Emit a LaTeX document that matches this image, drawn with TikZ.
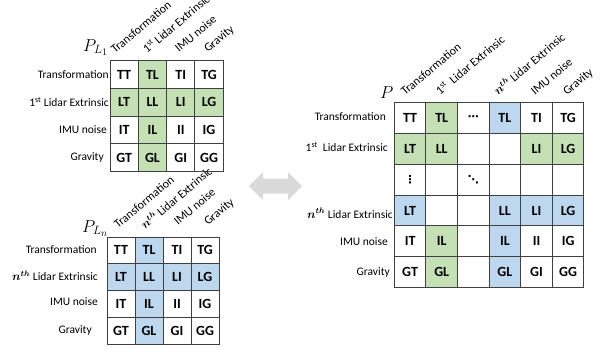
\documentclass[tikz,border=0pt]{standalone}
\usepackage{amsmath}
\usepackage{fontspec}
\setmainfont{Carlito}
\newfontfamily\djv{DejaVu Sans}
\definecolor{lg}{HTML}{C5E0B4}
\definecolor{lb}{HTML}{BDD7EE}
\definecolor{gridc}{HTML}{404040}
\definecolor{arrowc}{HTML}{D9D9D9}
\newcommand\mkC[4]{\node[cellbox, fill=#4, minimum width=31.6pt, minimum height=30.8pt] (C-#1-#2) at ({394.3+31.6*(#2-0.5)},{102.7+30.8*(#1-0.5)}) {#3};}
\begin{document}
\begin{tikzpicture}[x=1pt,y=-1pt,
  cellbox/.style={draw=gridc, line width=1pt, inner sep=0pt, font=\fontsize{14}{14}\selectfont\bfseries},
  rowlab/.style={anchor=east, inner sep=0pt, font=\fontsize{11.5}{12}\selectfont},
  collab/.style={anchor=base west, rotate=40, inner sep=0pt, font=\fontsize{12}{13}\selectfont},
  mlab/.style={anchor=base west, inner sep=0pt, font=\fontsize{17.28}{18}\selectfont},
  dotsty/.style={font=\djv\bfseries\fontsize{11}{11}\selectfont}]
\useasboundingbox (0,0) rectangle (607,349);

% ---------- top-left matrix ----------
\foreach \r/\c/\txt/\fc in {1/1/TT/white,1/2/TL/lg,1/3/TI/white,1/4/TG/white,
 2/1/LT/lg,2/2/LL/lg,2/3/LI/lg,2/4/LG/lg,
 3/1/IT/white,3/2/IL/lg,3/3/II/white,3/4/IG/white,
 4/1/GT/white,4/2/GL/lg,4/3/GI/white,4/4/GG/white}
 \node[cellbox, fill=\fc, minimum width=28.3pt, minimum height=27.75pt] (A-\r-\c) at ({110+28.3*(\c-0.5)},{60.7+27.75*(\r-0.5)}) {\txt};
\node[rowlab] (A-r1) at (109,74.5) {Transformation};
\node[rowlab] (A-r2) at (109,102) {1\textsuperscript{st} Lidar Extrinsic};
\node[rowlab] (A-r3) at (107,130) {IMU noise};
\node[rowlab] (A-r4) at (104,157) {Gravity};
\node[collab] (A-c1) at (115,54) {Transformation};
\node[collab] (A-c2) at (147,54) {1\textsuperscript{st} Lidar Extrinsic};
\node[collab] (A-c3) at (179,53) {IMU noise};
\node[collab] (A-c4) at (208,53) {Gravity};
\node[mlab] (A-name) at (83,51) {$P_{L_1}$};

% ---------- bottom-left matrix ----------
\foreach \r/\c/\txt/\fc in {1/1/TT/white,1/2/TL/lb,1/3/TI/white,1/4/TG/white,
 2/1/LT/lb,2/2/LL/lb,2/3/LI/lb,2/4/LG/lb,
 3/1/IT/white,3/2/IL/lb,3/3/II/white,3/4/IG/white,
 4/1/GT/white,4/2/GL/lb,4/3/GI/white,4/4/GG/white}
 \node[cellbox, fill=\fc, minimum width=28pt, minimum height=26.85pt] (B-\r-\c) at ({107+28*(\c-0.5)},{237+26.85*(\r-0.5)}) {\txt};
\node[rowlab] (B-r1) at (97,250) {Transformation};
\node[rowlab] (B-r2) at (98,276) {$\boldsymbol{n^{th}}$ Lidar Extrinsic};
\node[rowlab] (B-r3) at (98,302) {IMU noise};
\node[rowlab] (B-r4) at (92,330) {Gravity};
\node[collab] (B-c1) at (118,229) {Transformation};
\node[collab] (B-c2) at (145,230) {$\boldsymbol{n^{th}}$ Lidar Extrinsic};
\node[collab] (B-c3) at (178,226) {IMU noise};
\node[collab] (B-c4) at (208,226) {Gravity};
\node[mlab] (B-name) at (82,232) {$P_{L_n}$};

% ---------- right matrix ----------
\mkC{1}{1}{TT}{white}\mkC{1}{2}{TL}{lg}\mkC{1}{3}{}{white}\mkC{1}{4}{TL}{lb}\mkC{1}{5}{TI}{white}\mkC{1}{6}{TG}{white}
\mkC{2}{1}{LT}{lg}\mkC{2}{2}{LL}{lg}\mkC{2}{3}{}{white}\mkC{2}{4}{}{white}\mkC{2}{5}{LI}{lg}\mkC{2}{6}{LG}{lg}
\mkC{3}{1}{}{white}\mkC{3}{2}{}{white}\mkC{3}{3}{}{white}\mkC{3}{4}{}{white}\mkC{3}{5}{}{white}\mkC{3}{6}{}{white}
\mkC{4}{1}{LT}{lb}\mkC{4}{2}{}{white}\mkC{4}{3}{}{white}\mkC{4}{4}{LL}{lb}\mkC{4}{5}{LI}{lb}\mkC{4}{6}{LG}{lb}
\mkC{5}{1}{IT}{white}\mkC{5}{2}{IL}{lg}\mkC{5}{3}{}{white}\mkC{5}{4}{IL}{lb}\mkC{5}{5}{II}{white}\mkC{5}{6}{IG}{white}
\mkC{6}{1}{GT}{white}\mkC{6}{2}{GL}{lg}\mkC{6}{3}{}{white}\mkC{6}{4}{GL}{lb}\mkC{6}{5}{GI}{white}\mkC{6}{6}{GG}{white}
\node[dotsty] (C-d1) at (C-1-3) {⋯};
\node[dotsty] (C-d2) at (C-3-1) {⋮};
\node[dotsty] (C-d3) at (C-3-3) {⋱};
\node[rowlab] (C-r1) at (386,116.7) {Transformation};
\node[rowlab] (C-r2) at (388,147) {1\textsuperscript{st}\ \ Lidar Extrinsic};
\node[rowlab] (C-r4) at (393,213.3) {$\boldsymbol{n^{th}}$ Lidar Extrinsic};
\node[rowlab] (C-r5) at (388,242) {IMU noise};
\node[rowlab] (C-r6) at (390,272) {Gravity};
\node[collab] (C-c1) at (405,96) {Transformation};
\node[collab] (C-c2) at (440,96) {1\textsuperscript{st}\ \ Lidar Extrinsic};
\node[collab] (C-c4) at (498,96) {$\boldsymbol{n^{th}}$ Lidar Extrinsic};
\node[collab] (C-c5) at (535,96) {IMU noise};
\node[collab] (C-c6) at (567,96) {Gravity};
\node[mlab] (C-name) at (380,98) {$P$};

% ---------- double arrow ----------
\fill[arrowc] (249,186) -- (263,172) -- (263,178.5) -- (288,178.5) -- (288,172) -- (302,186)
  -- (288,200) -- (288,193.5) -- (263,193.5) -- (263,200) -- cycle;
\end{tikzpicture}
\end{document}
